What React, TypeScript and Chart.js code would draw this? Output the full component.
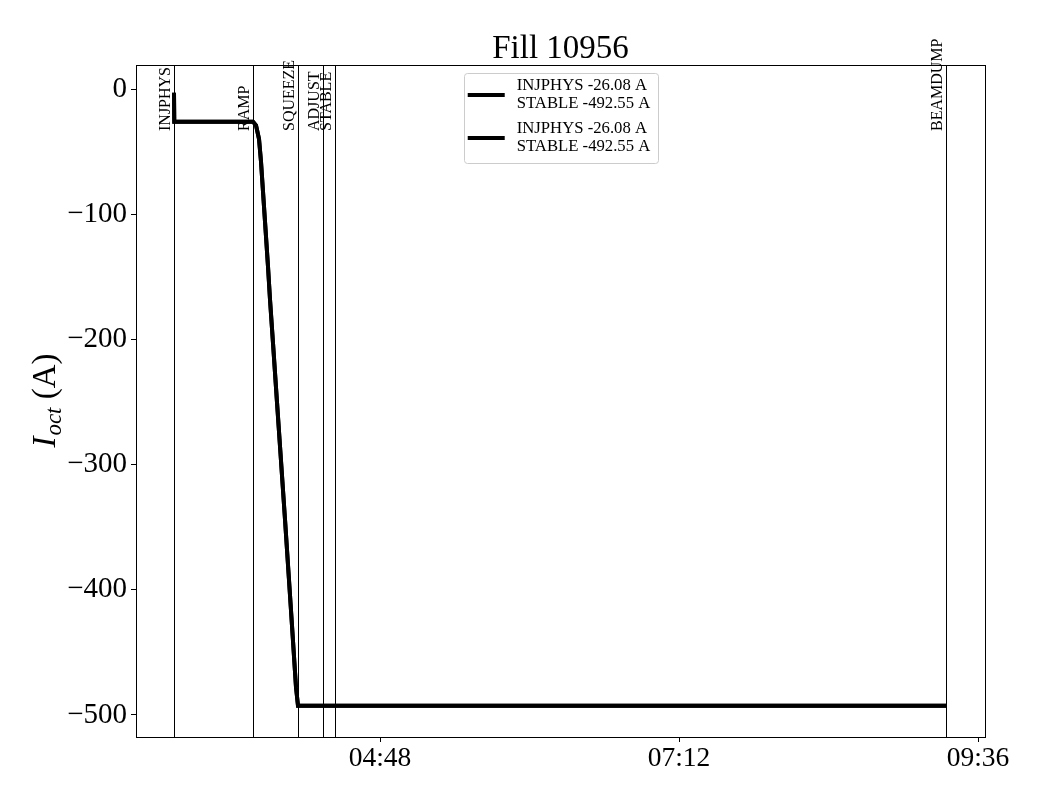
import React, { useEffect, useRef } from "react";
import { Chart, registerables } from "chart.js";

Chart.register(...registerables);

const TITLE = "Fill 10956";
const SERIES_TIMES = [
  "03:08:47", "03:08:55", "03:46:50", "03:48:17", "03:49:44", "03:50:41", "03:51:39",
  "03:52:37", "03:54:04", "03:55:01", "03:56:28", "03:58:23", "04:00:19", "04:02:15",
  "04:04:10", "04:06:06", "04:07:33", "04:08:30", "09:20:36",
];
const SERIES_VALUES = [
  -3, -26.08, -26.08, -29, -40, -58, -82,
  -106, -142, -168, -203, -250, -297, -344,
  -392, -441, -478, -492.55, -492.55,
];
const MODE_NAMES = ["INJPHYS", "RAMP", "SQUEEZE", "ADJUST", "STABLE", "BEAMDUMP"];
const MODE_TIMES = ["03:08:47", "03:46:50", "04:08:30", "04:20:33", "04:26:20", "09:20:36"];
const LEGEND_LABELS = [
  ["INJPHYS -26.08 A", "STABLE -492.55 A"],
  ["INJPHYS -26.08 A", "STABLE -492.55 A"],
];
const X_TICKS = ["04:48", "07:12", "09:36"];
const Y_TICKS = [0, -100, -200, -300, -400, -500];
const X_MIN = "02:50:29";
const X_MAX = "09:39:22";
const Y_MIN = -517.6;
const Y_MAX = 19.2;

const FONT = "'Liberation Serif', 'Times New Roman', serif";

const toHours = (s: string) => {
  const p = s.split(":").map(Number);
  return p[0] + p[1] / 60 + (p[2] || 0) / 3600;
};
const fmt = (h: number) => {
  const tot = Math.round(h * 60);
  const hh = Math.floor(tot / 60);
  const mm = tot % 60;
  return String(hh).padStart(2, "0") + ":" + String(mm).padStart(2, "0");
};

const overlay = {
  id: "overlay",
  beforeDatasetsDraw(chart: any) {
    const { ctx, chartArea: a, scales } = chart;
    ctx.save();
    ctx.strokeStyle = "#000";
    ctx.lineWidth = 1;
    MODE_TIMES.forEach((t) => {
      const x = Math.round(scales.x.getPixelForValue(toHours(t))) + 0.5;
      ctx.beginPath();
      ctx.moveTo(x, a.top);
      ctx.lineTo(x, a.bottom);
      ctx.stroke();
    });
    ctx.restore();
  },
  afterDraw(chart: any) {
    const { ctx, chartArea: a, scales } = chart;
    ctx.save();
    // frame
    ctx.strokeStyle = "#000";
    ctx.lineWidth = 1;
    ctx.strokeRect(
      Math.round(a.left) + 0.5,
      Math.round(a.top) + 0.5,
      Math.round(a.right - a.left),
      Math.round(a.bottom - a.top)
    );
    // mode labels
    ctx.fillStyle = "#000";
    ctx.font = `16px ${FONT}`;
    ctx.textBaseline = "alphabetic";
    ctx.textAlign = "left";
    MODE_TIMES.forEach((t, i) => {
      const x = scales.x.getPixelForValue(toHours(t));
      ctx.save();
      ctx.translate(x - 4, a.top + 66);
      ctx.rotate(-Math.PI / 2);
      ctx.fillText(MODE_NAMES[i], 0, 0);
      ctx.restore();
    });
    // legend
    ctx.font = `16.7px ${FONT}`;
    const tw = Math.max(...LEGEND_LABELS.flat().map((s) => ctx.measureText(s).width));
    const bw = 4 + 37 + 12 + tw + 7;
    const bx = (a.left + a.right) / 2 - bw / 2;
    const by = a.top + 8;
    const bh = 90;
    ctx.beginPath();
    (ctx as any).roundRect(Math.round(bx) + 0.5, Math.round(by) + 0.5, Math.round(bw), bh, 3);
    ctx.fillStyle = "rgba(255,255,255,0.8)";
    ctx.fill();
    ctx.strokeStyle = "#cccccc";
    ctx.stroke();
    ctx.fillStyle = "#000";
    ctx.textBaseline = "middle";
    LEGEND_LABELS.forEach((lines, i) => {
      const y1 = by + 13 + i * 43;
      const y2 = y1 + 18;
      const hy = (y1 + y2) / 2;
      ctx.strokeStyle = "#000";
      ctx.lineWidth = 4;
      ctx.beginPath();
      ctx.moveTo(bx + 4, hy);
      ctx.lineTo(bx + 41, hy);
      ctx.stroke();
      ctx.fillText(lines[0], bx + 53, y1);
      ctx.fillText(lines[1], bx + 53, y2);
    });
    // title
    ctx.textAlign = "center";
    ctx.textBaseline = "alphabetic";
    ctx.font = `33px ${FONT}`;
    ctx.fillText(TITLE, (a.left + a.right) / 2, 58);
    // y label
    ctx.save();
    ctx.translate(55, (a.top + a.bottom) / 2);
    ctx.rotate(-Math.PI / 2);
    ctx.textAlign = "left";
    ctx.font = `italic 33px ${FONT}`;
    const wI = ctx.measureText("I").width;
    ctx.font = `italic 23px ${FONT}`;
    const wO = ctx.measureText("oct").width;
    ctx.font = `33px ${FONT}`;
    const wA = ctx.measureText(" (A)").width;
    const sx = -(wI + wO + wA) / 2;
    ctx.font = `italic 33px ${FONT}`;
    ctx.fillText("I", sx, 0);
    ctx.font = `italic 23px ${FONT}`;
    ctx.fillText("oct", sx + wI + 1, 6);
    ctx.font = `33px ${FONT}`;
    ctx.fillText(" (A)", sx + wI + wO + 1, 0);
    ctx.restore();
    ctx.restore();
  },
};

export default function App() {
  const ref = useRef<HTMLCanvasElement>(null);
  useEffect(() => {
    const data = SERIES_TIMES.map((t, i) => ({ x: toHours(t), y: SERIES_VALUES[i] }));
    const chart = new Chart(ref.current as HTMLCanvasElement, {
      type: "line",
      data: {
        datasets: LEGEND_LABELS.map((l) => ({
          label: l.join("\n"),
          data,
          borderColor: "#000",
          backgroundColor: "#000",
          borderWidth: 4,
          pointRadius: 0,
          tension: 0,
        })),
      },
      options: {
        responsive: false,
        animation: false,
        devicePixelRatio: 1,
        layout: { padding: { top: 65, right: 55, left: 0, bottom: 0 } },
        plugins: { legend: { display: false }, tooltip: { enabled: false }, title: { display: false } },
        scales: {
          x: {
            type: "linear",
            min: toHours(X_MIN),
            max: toHours(X_MAX),
            afterBuildTicks: (s: any) => {
              s.ticks = X_TICKS.map((t) => ({ value: toHours(t) }));
            },
            afterFit: (s: any) => {
              s.height = 63;
            },
            ticks: {
              callback: (v: any) => fmt(Number(v)),
              font: { family: FONT, size: 27.5 },
              color: "#000",
              maxRotation: 0,
              autoSkip: false,
              padding: 0,
            },
            grid: { display: true, drawOnChartArea: false, drawTicks: true, tickLength: 5, tickColor: "#000" },
            border: { display: true, color: "#000", width: 1 },
          },
          y: {
            type: "linear",
            min: Y_MIN,
            max: Y_MAX,
            afterBuildTicks: (s: any) => {
              s.ticks = Y_TICKS.map((v) => ({ value: v }));
            },
            afterFit: (s: any) => {
              s.width = 136;
            },
            ticks: {
              callback: (v: any) => (Number(v) < 0 ? "\u2212" + Math.abs(Number(v)) : String(v)),
              font: { family: FONT, size: 29 },
              color: "#000",
              autoSkip: false,
              padding: 4,
            },
            grid: { display: true, drawOnChartArea: false, drawTicks: true, tickLength: 5, tickColor: "#000" },
            border: { display: true, color: "#000", width: 1 },
          },
        },
      },
      plugins: [overlay],
    } as any);
    return () => chart.destroy();
  }, []);
  return (
    <div style={{ position: "absolute", left: 0, top: 0, width: 1040, height: 800, background: "#fff" }}>
      <canvas ref={ref} width={1040} height={800} style={{ width: 1040, height: 800, display: "block" }} />
    </div>
  );
}
